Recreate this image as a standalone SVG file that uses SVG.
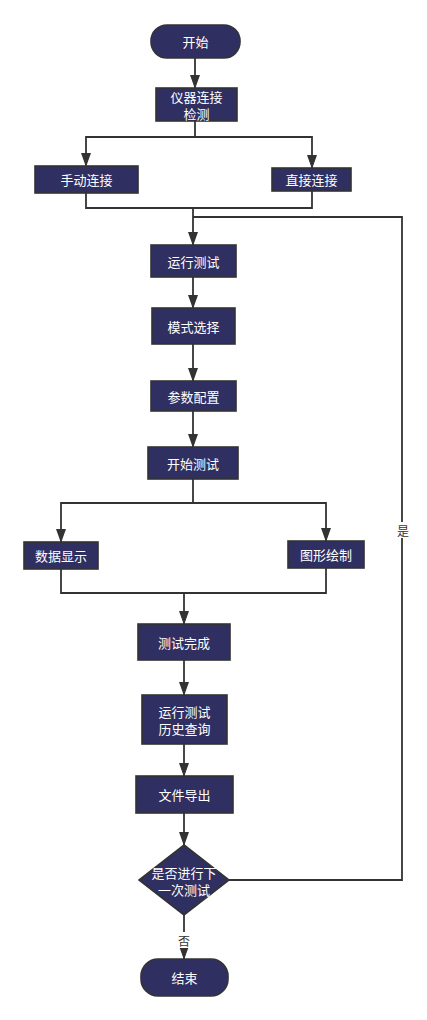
<svg xmlns="http://www.w3.org/2000/svg" width="427" height="1020" viewBox="0 0 427 1020">
<defs>
<marker id="arr" markerUnits="userSpaceOnUse" viewBox="0 0 14 10" markerWidth="14" markerHeight="10" refX="13" refY="5" orient="auto">
<path d="M0,0 L14,5 L0,10 z" fill="#333"/>
</marker>
<style>
.n{fill:#302f62;stroke:#333;stroke-width:1.6}
.t{fill:#fff;font-family:"Noto Sans CJK SC","Noto Sans",sans-serif;font-size:13px;text-anchor:middle;dominant-baseline:central}
.c{fill:none;stroke:#333;stroke-width:1.8}
.l{fill:#333;font-family:"Noto Sans CJK SC","Noto Sans",sans-serif;font-size:12px;text-anchor:middle;dominant-baseline:central}
</style>
</defs>
<rect width="427" height="1020" fill="#fff"/>
<g id="connectors">
<path class="c" d="M195 58 V88" marker-end="url(#arr)"/>
<path class="c" d="M195 121 V137 H86 V166" marker-end="url(#arr)"/>
<path class="c" d="M195 137 H312 V168" marker-end="url(#arr)"/>
<path class="c" d="M86 193 V208 H312 V191"/>
<path class="c" d="M193 208 V245" marker-end="url(#arr)"/>
<path class="c" d="M229 880 H402 V217 H193"/>
<path class="c" d="M193 277 V308" marker-end="url(#arr)"/>
<path class="c" d="M193 344 V381" marker-end="url(#arr)"/>
<path class="c" d="M193 411 V447" marker-end="url(#arr)"/>
<path class="c" d="M193 479 V503 H61 V542" marker-end="url(#arr)"/>
<path class="c" d="M193 503 H326 V541" marker-end="url(#arr)"/>
<path class="c" d="M61 569 V593 H326 V568"/>
<path class="c" d="M184 593 V624" marker-end="url(#arr)"/>
<path class="c" d="M184 660 V695" marker-end="url(#arr)"/>
<path class="c" d="M184 744 V776" marker-end="url(#arr)"/>
<path class="c" d="M184 813 V845" marker-end="url(#arr)"/>
<path class="c" d="M184 915 V959" marker-end="url(#arr)"/>
<rect x="395" y="522" width="16" height="16" fill="#fff"/>
<text class="l" x="403" y="530">是</text>
<rect x="176" y="932" width="16" height="16" fill="#fff"/>
<text class="l" x="184" y="940">否</text>
</g>
<g id="start"><rect class="n" x="151" y="25" width="89" height="33" rx="16"/><text class="t" x="195.5" y="41.5">开始</text></g>
<g id="detect"><rect class="n" x="156" y="88" width="81" height="33"/><text class="t" x="196.5" y="96">仪器连接</text><text class="t" x="196.5" y="113">检测</text></g>
<g id="manual"><rect class="n" x="35" y="166" width="103" height="27"/><text class="t" x="86.5" y="179.5">手动连接</text></g>
<g id="direct"><rect class="n" x="272" y="168" width="79" height="23"/><text class="t" x="311.5" y="179.5">直接连接</text></g>
<g id="run"><rect class="n" x="151" y="245" width="85" height="32"/><text class="t" x="193.5" y="261">运行测试</text></g>
<g id="mode"><rect class="n" x="152" y="308" width="83" height="36"/><text class="t" x="193.5" y="326">模式选择</text></g>
<g id="param"><rect class="n" x="151" y="381" width="85" height="30"/><text class="t" x="193.5" y="396">参数配置</text></g>
<g id="begin"><rect class="n" x="148" y="447" width="90" height="32"/><text class="t" x="193" y="463">开始测试</text></g>
<g id="data"><rect class="n" x="24" y="542" width="74" height="27"/><text class="t" x="61" y="555.5">数据显示</text></g>
<g id="graph"><rect class="n" x="288" y="541" width="76" height="27"/><text class="t" x="326" y="554.5">图形绘制</text></g>
<g id="done"><rect class="n" x="138" y="624" width="92" height="36"/><text class="t" x="184" y="642">测试完成</text></g>
<g id="history"><rect class="n" x="142" y="695" width="85" height="49"/><text class="t" x="184.5" y="711">运行测试</text><text class="t" x="184.5" y="728">历史查询</text></g>
<g id="export"><rect class="n" x="136" y="776" width="97" height="37"/><text class="t" x="184.5" y="794.5">文件导出</text></g>
<g id="decide"><polygon class="n" points="184,845 229,880 184,915 139,880"/><text class="t" x="184" y="872">是否进行下</text><text class="t" x="184" y="889">一次测试</text></g>
<g id="end"><rect class="n" x="141" y="959" width="87" height="37" rx="17"/><text class="t" x="184.5" y="977.5">结束</text></g>
</svg>
